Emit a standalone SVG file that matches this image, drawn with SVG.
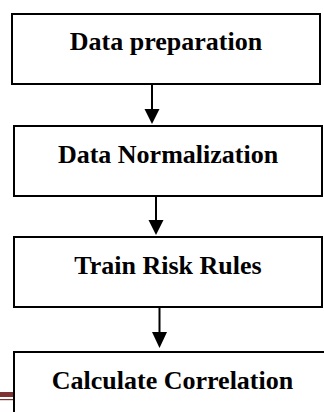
<svg xmlns="http://www.w3.org/2000/svg" width="324" height="412" viewBox="0 0 324 412">
  <defs>
    <style>
      .box { fill: #ffffff; stroke: #000000; stroke-width: 2; }
      .label { font-family: "Liberation Serif", "Times New Roman", serif; font-weight: bold; font-size: 26px; fill: #000000; text-anchor: middle; }
      .link { stroke: #000000; stroke-width: 2; fill: none; }
      .head { fill: #000000; }
    </style>
  </defs>
  <rect width="324" height="412" fill="#ffffff"/>

  <!-- page rule peeking in at the left margin -->
  <g id="page-rule">
    <rect x="0" y="392" width="14" height="5" fill="#7f3330"/>
    <rect x="0" y="399" width="14" height="1.2" fill="#7f3330"/>
  </g>

  <g id="node-preparation">
    <rect class="box" x="12" y="14" width="308" height="70"/>
    <text class="label" x="166" y="50">Data preparation</text>
  </g>

  <g id="node-normalization">
    <rect class="box" x="14" y="126" width="308" height="70"/>
    <text class="label" x="168" y="162.5">Data Normalization</text>
  </g>

  <g id="node-train">
    <rect class="box" x="14" y="237" width="308" height="70"/>
    <text class="label" x="168" y="273.5">Train Risk Rules</text>
  </g>

  <g id="node-correlation">
    <rect class="box" x="14" y="352" width="317" height="80"/>
    <text class="label" x="172.5" y="388.5">Calculate Correlation</text>
  </g>

  <g id="connectors">
    <line class="link" x1="152" y1="84" x2="152" y2="110"/>
    <polygon class="head" points="144.5,109 159.5,109 152,124"/>
    <line class="link" x1="156" y1="196" x2="156" y2="221"/>
    <polygon class="head" points="148.5,220 163.5,220 156,235"/>
    <line class="link" x1="159.5" y1="307" x2="159.5" y2="333"/>
    <polygon class="head" points="152,332 167,332 159.5,348"/>
  </g>
</svg>
